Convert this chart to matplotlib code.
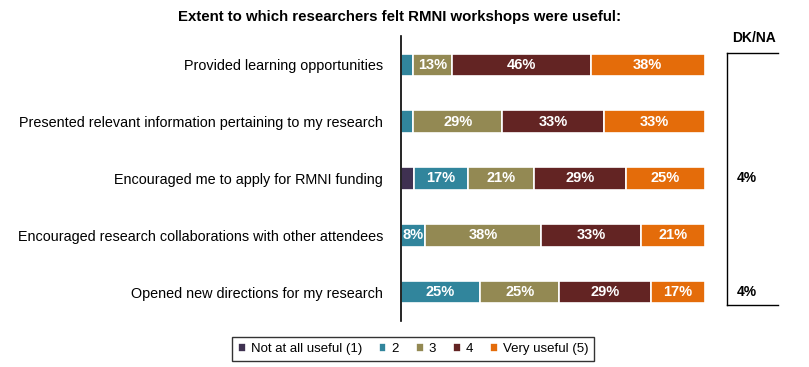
import matplotlib
matplotlib.use("Agg")
import matplotlib.pyplot as plt
import numpy as np

plt.rcParams['font.family'] = ['Liberation Sans', 'DejaVu Sans']

categories = [
    "Provided learning opportunities",
    "Presented relevant information pertaining to my research",
    "Encouraged me to apply for RMNI funding",
    "Encouraged research collaborations with other attendees",
    "Opened new directions for my research",
]
series_names = ["Not at all useful (1)", "2", "3", "4", "Very useful (5)"]
not_at_all = [0, 0, 4, 0, 0]
s2 = [4, 4, 17, 8, 25]
s3 = [13, 29, 21, 38, 25]
s4 = [46, 33, 29, 33, 29]
very = [38, 33, 25, 21, 17]
dkna = ["", "", "4%", "", "4%"]
colors = ["#3F3151", "#31859C", "#938953", "#632423", "#E46C0A"]

data = np.array([not_at_all, s2, s3, s4, very], dtype=float)
totals = data.sum(axis=0)
shares = data / totals * 100

W, H = 809, 367
fig = plt.figure(figsize=(W / 100, H / 100), dpi=100)
ax = fig.add_axes([401 / W, 1 - 320.5 / H, 304 / W, 284 / H])

y = np.arange(len(categories))
left = np.zeros(len(categories))
handles = []
for i, name in enumerate(series_names):
    b = ax.barh(y, shares[i], left=left, height=0.40, color=colors[i],
                edgecolor="white", linewidth=1.2, label=name)
    handles.append(b)
    for j in range(len(categories)):
        if data[i, j] >= 8:
            ax.text(left[j] + shares[i, j] / 2, y[j], f"{int(data[i, j])}%",
                    ha="center", va="center", color="white",
                    fontsize=10.5, fontweight="bold")
    left += shares[i]

ax.set_xlim(0, 100)
ax.set_ylim(len(categories) - 0.5, -0.5)
ax.set_yticks(y)
ax.set_yticklabels(categories, fontsize=10.35)
ax.tick_params(axis="y", length=0, pad=13)
ax.set_xticks([])
for s in ["top", "right", "bottom"]:
    ax.spines[s].set_visible(False)
ax.spines["left"].set_linewidth(1.2)

fig.text(400 / W, 1 - 17 / H, "Extent to which researchers felt RMNI workshops were useful:",
         ha="center", va="center", fontsize=10.8, fontweight="bold")

# DK/NA column
fig.text(754 / W, 1 - 38 / H, "DK/NA", ha="center", va="center",
         fontsize=10, fontweight="bold")
fig.add_artist(plt.Line2D([727 / W, 727 / W], [1 - 53 / H, 1 - 305 / H],
                          color="black", linewidth=1))
fig.add_artist(plt.Line2D([727 / W, 778 / W], [1 - 53 / H, 1 - 53 / H],
                          color="black", linewidth=1))
fig.add_artist(plt.Line2D([727 / W, 778 / W], [1 - 305 / H, 1 - 305 / H],
                          color="black", linewidth=1))
trans = matplotlib.transforms.blended_transform_factory(fig.transFigure, ax.transData)
for j, t in enumerate(dkna):
    if t:
        ax.text(747 / W, y[j], t, transform=trans, ha="center", va="center",
                fontsize=10, fontweight="bold")

leg = fig.legend(handles=handles, loc="center", bbox_to_anchor=(413 / W, 1 - 349 / H),
                 ncol=5, frameon=True, fancybox=False, edgecolor="black",
                 fontsize=9.5, handlelength=0.6, handleheight=0.6,
                 handletextpad=0.4, columnspacing=1.25, borderpad=0.45)
leg.get_frame().set_linewidth(1)

fig.savefig("out.png", dpi=100)
